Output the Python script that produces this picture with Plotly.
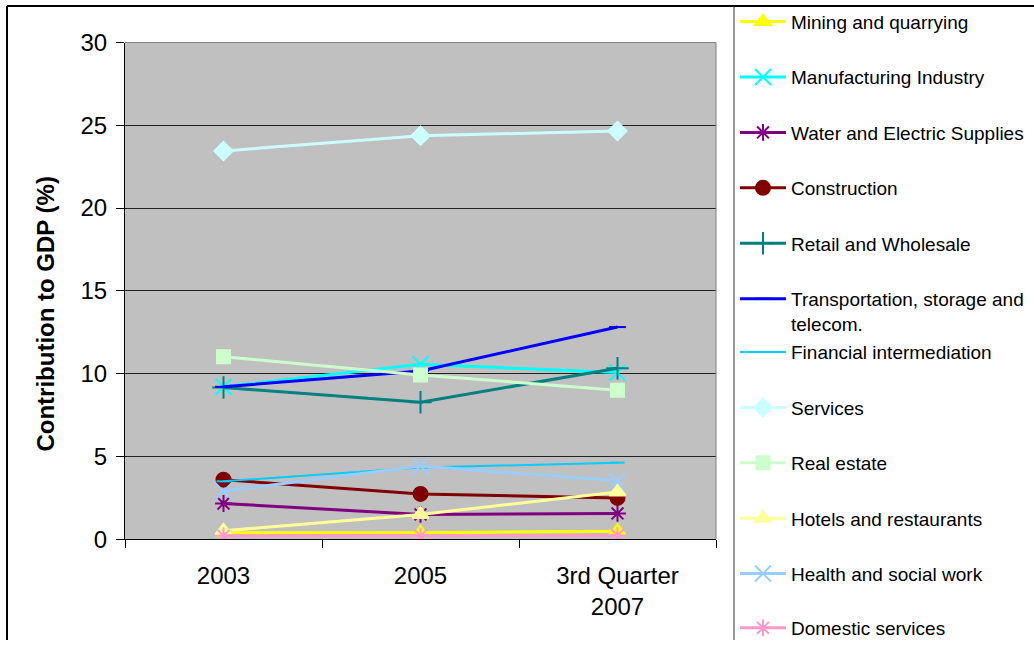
import plotly.graph_objects as go

W, H = 1034, 647

categories = ["2003", "2005", "3rd Quarter<br>2007"]

series_names = [
    "Mining and quarrying",
    "Manufacturing Industry",
    "Water and Electric Supplies",
    "Construction",
    "Retail and Wholesale",
    "Transportation, storage and<br>telecom.",
    "Financial intermediation",
    "Services",
    "Real estate",
    "Hotels and restaurants",
    "Health and social work",
    "Domestic services",
]

mining = [0.38, 0.38, 0.48]
manufacturing = [9.2, 10.56, 10.06]
water_electric = [2.15, 1.49, 1.55]
construction = [3.59, 2.73, 2.49]
retail = [9.16, 8.27, 10.32]
transport = [9.2, 10.16, 12.81]
financial = [3.49, 4.32, 4.62]
services = [23.45, 24.37, 24.65]
real_estate = [11.02, 9.92, 9.0]
hotels = [0.5, 1.49, 2.85]
health = [2.89, 4.42, 3.53]
domestic = [0.2, 0.2, 0.22]

values = [mining, manufacturing, water_electric, construction, retail, transport,
          financial, services, real_estate, hotels, health, domestic]

colors = ["#FFFF00", "#00FFFF", "#800080", "#800000", "#008080", "#0000FF",
          "#00CCFF", "#CCFFFF", "#CCFFCC", "#FFFF99", "#99CCFF", "#FF99CC"]
symbols = ["triangle-up", "x-thin-open", "asterisk-open", "circle", "cross-thin-open",
           "line-ew-open", "line-ew-open", "diamond", "square", "triangle-up",
           "x-thin-open", "asterisk-open"]
msizes = [14, 16, 14, 14, 16, 12, 10, 14, 13, 14, 16, 14]
lwidths = [3, 3, 3, 3, 3, 3, 2, 3, 3, 3, 3, 3]

# legend entry vertical centres (pixels from top)
legend_y_px = [22, 78, 134, 190, 246, 296, 356, 412, 468, 524, 580, 635]

FONT = "Arial, Liberation Sans, sans-serif"

fig = go.Figure()
layout_legends = {}
for i, (name, vals) in enumerate(zip(series_names, values)):
    lname = "legend" if i == 0 else f"legend{i+1}"
    fig.add_trace(go.Scatter(
        x=categories, y=vals, name=name, mode="lines+markers",
        line=dict(color=colors[i], width=lwidths[i]),
        marker=dict(symbol=symbols[i], size=msizes[i], color=colors[i],
                    line=dict(color=colors[i], width=2)),
        legend=lname,
    ))
    two_line = "<br>" in name
    layout_legends[lname] = dict(
        x=735 / W, xanchor="left",
        y=1 - (legend_y_px[i] - (13 if two_line else 0)) / H,
        yanchor="top" if two_line else "middle",
        valign="top",
        bgcolor="rgba(0,0,0,0)",
        font=dict(family=FONT, size=19, color="#000000"),
        itemwidth=46,
        borderwidth=0,
    )

fig.update_layout(
    width=W, height=H,
    margin=dict(l=0, r=0, t=0, b=0),
    paper_bgcolor="#FFFFFF",
    plot_bgcolor="#C0C0C0",
    showlegend=True,
    font=dict(family=FONT, color="#000000"),
    xaxis=dict(
        domain=[125 / W, 716 / W],
        type="category",
        range=[-0.5, 2.5],
        showline=True, linecolor="#000000", linewidth=1,
        ticks="outside", tickson="boundaries", ticklen=8, tickcolor="#000000",
        tickfont=dict(size=24, family=FONT),
        ticklabelstandoff=15,
        showgrid=False, zeroline=False,
        fixedrange=True,
    ),
    yaxis=dict(
        domain=[1 - 545 / H, 1 - 43 / H],
        range=[0, 30], dtick=5, tick0=0,
        showline=True, linecolor="#000000", linewidth=1,
        ticks="outside", ticklen=8, tickcolor="#000000",
        tickfont=dict(size=24, family=FONT),
        ticklabelstandoff=4,
        showgrid=True, gridcolor="#222222", gridwidth=1,
        zeroline=False,
        automargin=False,
    ),
    annotations=[
        dict(text="<b>Contribution to GDP (%)</b>", textangle=-90,
             xref="paper", yref="paper", x=46 / W, y=1 - 317 / H,
             xanchor="center", yanchor="middle", showarrow=False,
             font=dict(size=24, family=FONT, color="#000000")),
    ],
    shapes=[
        # outer chart border (top and left)
        dict(type="line", xref="paper", yref="paper", x0=7 / W, x1=1.0, y0=1 - 6 / H, y1=1 - 6 / H,
             line=dict(color="#000000", width=2)),
        dict(type="line", xref="paper", yref="paper", x0=7 / W, x1=7 / W, y0=0, y1=1 - 6 / H,
             line=dict(color="#000000", width=2)),
        # legend box left edge
        dict(type="line", xref="paper", yref="paper", x0=734 / W, x1=734 / W, y0=0, y1=1 - 6 / H,
             line=dict(color="#333333", width=1)),
        # plot area border (top/right) in grey
        dict(type="line", xref="paper", yref="paper", x0=125 / W, x1=716 / W, y0=1 - 43 / H, y1=1 - 43 / H,
             line=dict(color="#808080", width=1)),
        dict(type="line", xref="paper", yref="paper", x0=716 / W, x1=716 / W, y0=1 - 545 / H, y1=1 - 43 / H,
             line=dict(color="#808080", width=1)),
    ],
    **layout_legends,
)

fig.write_html("out.html")
